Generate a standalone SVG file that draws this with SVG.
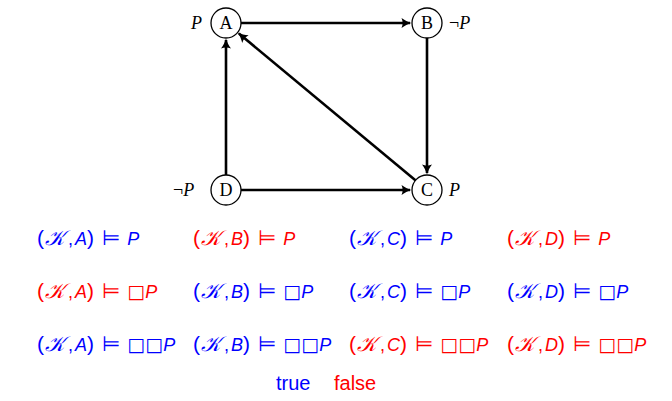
<svg xmlns="http://www.w3.org/2000/svg" width="672" height="401" viewBox="0 0 672 401">
<style>
.node circle{fill:#fff;stroke:#000;stroke-width:1.3}
.nl{font-family:"Liberation Serif",serif;font-size:18px;text-anchor:middle}
.pl{font-family:"Liberation Serif",serif;font-size:18px}
.edge{stroke:#000;stroke-width:2.6;fill:none;marker-end:url(#ah)}
.f{font-family:"Liberation Sans","DejaVu Sans",sans-serif;font-size:18px}
.i{font-style:italic}
.p{font-size:21px}
.k{font-family:"DejaVu Sans","Liberation Serif",serif;font-style:italic;font-size:21px}
.s{font-family:"DejaVu Sans",sans-serif;font-size:21px}
.q{font-family:"DejaVu Sans",sans-serif;font-size:19px}
.b{fill:#0000ff}
.r{fill:#ff0000}
.leg{font-family:"Liberation Sans",sans-serif;font-size:20px}
</style>
<defs>
<marker id="ah" markerUnits="userSpaceOnUse" markerWidth="14" markerHeight="12" viewBox="-10 -6 12 12" refX="0" refY="0" orient="auto">
<path d="M1.5,0 C-2,-0.9 -5.5,-2.8 -8.5,-5 C-7,-1.7 -7,1.7 -8.5,5 C-5.5,2.8 -2,0.9 1.5,0 Z" fill="#000"/>
</marker>
</defs>
<g id="edges">
<line class="edge" x1="241" y1="23" x2="410" y2="23"/>
<line class="edge" x1="427" y1="38" x2="427" y2="173"/>
<line class="edge" x1="226" y1="175" x2="226" y2="40"/>
<line class="edge" x1="241" y1="190" x2="410" y2="190"/>
<line class="edge" x1="415.4" y1="180.3" x2="238.9" y2="33.6"/>
</g>
<g id="A" class="node"><circle cx="226" cy="23" r="15"/><text class="nl" x="226" y="29">A</text><text class="pl i" x="191" y="29">P</text></g>
<g id="B" class="node"><circle cx="427" cy="23" r="15"/><text class="nl" x="427" y="29">B</text><text class="pl" x="449" y="29">¬<tspan class="i">P</tspan></text></g>
<g id="C" class="node"><circle cx="427" cy="190" r="15"/><text class="nl" x="427" y="196">C</text><text class="pl i" x="449" y="196">P</text></g>
<g id="D" class="node"><circle cx="226" cy="190" r="15"/><text class="nl" x="226" y="196">D</text><text class="pl" x="173" y="196">¬<tspan class="i">P</tspan></text></g>
<g id="formulas" class="f">
<text class="b" y="245"><tspan class="p" x="37">(</tspan><tspan class="k" x="45">𝒦</tspan><tspan x="68">,</tspan><tspan class="i" x="75">A</tspan><tspan class="p">)</tspan><tspan class="s" dx="8">⊨</tspan><tspan class="i" dx="7">P</tspan></text>
<text class="r" y="245"><tspan class="p" x="193">(</tspan><tspan class="k" x="201">𝒦</tspan><tspan x="224">,</tspan><tspan class="i" x="231">B</tspan><tspan class="p">)</tspan><tspan class="s" dx="8">⊨</tspan><tspan class="i" dx="7">P</tspan></text>
<text class="b" y="245"><tspan class="p" x="349">(</tspan><tspan class="k" x="357">𝒦</tspan><tspan x="380">,</tspan><tspan class="i" x="387">C</tspan><tspan class="p">)</tspan><tspan class="s" dx="8">⊨</tspan><tspan class="i" dx="7">P</tspan></text>
<text class="r" y="245"><tspan class="p" x="507">(</tspan><tspan class="k" x="515">𝒦</tspan><tspan x="538">,</tspan><tspan class="i" x="545">D</tspan><tspan class="p">)</tspan><tspan class="s" dx="8">⊨</tspan><tspan class="i" dx="7">P</tspan></text>
<text class="r" y="298"><tspan class="p" x="37">(</tspan><tspan class="k" x="45">𝒦</tspan><tspan x="68">,</tspan><tspan class="i" x="75">A</tspan><tspan class="p">)</tspan><tspan class="s" dx="8">⊨</tspan><tspan class="q" dx="7">□</tspan><tspan class="i">P</tspan></text>
<text class="b" y="298"><tspan class="p" x="193">(</tspan><tspan class="k" x="201">𝒦</tspan><tspan x="224">,</tspan><tspan class="i" x="231">B</tspan><tspan class="p">)</tspan><tspan class="s" dx="8">⊨</tspan><tspan class="q" dx="7">□</tspan><tspan class="i">P</tspan></text>
<text class="b" y="298"><tspan class="p" x="349">(</tspan><tspan class="k" x="357">𝒦</tspan><tspan x="380">,</tspan><tspan class="i" x="387">C</tspan><tspan class="p">)</tspan><tspan class="s" dx="8">⊨</tspan><tspan class="q" dx="7">□</tspan><tspan class="i">P</tspan></text>
<text class="b" y="298"><tspan class="p" x="507">(</tspan><tspan class="k" x="515">𝒦</tspan><tspan x="538">,</tspan><tspan class="i" x="545">D</tspan><tspan class="p">)</tspan><tspan class="s" dx="8">⊨</tspan><tspan class="q" dx="7">□</tspan><tspan class="i">P</tspan></text>
<text class="b" y="351"><tspan class="p" x="37">(</tspan><tspan class="k" x="45">𝒦</tspan><tspan x="68">,</tspan><tspan class="i" x="75">A</tspan><tspan class="p">)</tspan><tspan class="s" dx="8">⊨</tspan><tspan class="q" dx="7">□□</tspan><tspan class="i">P</tspan></text>
<text class="b" y="351"><tspan class="p" x="193">(</tspan><tspan class="k" x="201">𝒦</tspan><tspan x="224">,</tspan><tspan class="i" x="231">B</tspan><tspan class="p">)</tspan><tspan class="s" dx="8">⊨</tspan><tspan class="q" dx="7">□□</tspan><tspan class="i">P</tspan></text>
<text class="r" y="351"><tspan class="p" x="349">(</tspan><tspan class="k" x="357">𝒦</tspan><tspan x="380">,</tspan><tspan class="i" x="387">C</tspan><tspan class="p">)</tspan><tspan class="s" dx="8">⊨</tspan><tspan class="q" dx="7">□□</tspan><tspan class="i">P</tspan></text>
<text class="r" y="351"><tspan class="p" x="507">(</tspan><tspan class="k" x="515">𝒦</tspan><tspan x="538">,</tspan><tspan class="i" x="545">D</tspan><tspan class="p">)</tspan><tspan class="s" dx="8">⊨</tspan><tspan class="q" dx="7">□□</tspan><tspan class="i">P</tspan></text>
</g>
<g id="legend" class="leg">
<text x="276" y="390" class="b">true</text>
<text x="334" y="390" class="r">false</text>
</g>
</svg>
